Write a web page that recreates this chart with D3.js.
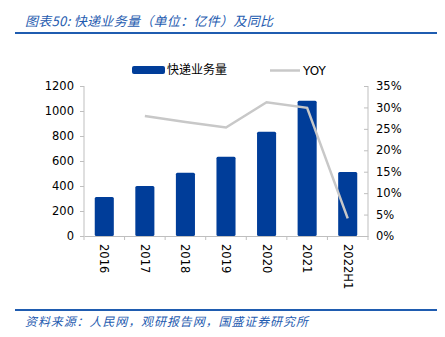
<!DOCTYPE html>
<html><head><meta charset="utf-8">
<script src="https://cdn.jsdelivr.net/npm/d3@7"></script>
<style>body{margin:0;background:#fff;} svg{display:block;}</style>
</head><body>
<svg id="c" width="445" height="337"></svg>
<script>
const categories = ["2016","2017","2018","2019","2020","2021","2022H1"];
const volume = [313, 401, 507, 635, 834, 1083, 512];
const yoy = [null, 28.0, 26.6, 25.3, 31.2, 29.9, 4.1];
const leftTicks = [0,200,400,600,800,1000,1200];
const rightTicks = [0,5,10,15,20,25,30,35];
const titleText = "图表50: 快递业务量（单位：亿件）及同比";
const sourceText = "资料来源：人民网，观研报告网，国盛证券研究所";
const seriesNames = ["快递业务量","YOY"];

const svg = d3.select("#c");
const blue = "#1f5cb0", barColor = "#003d99", lineColor = "#c8c8c8", axisColor = "#bfbfbf";
const font = "DejaVu Sans, Verdana, sans-serif";
const cjk = "Noto Sans CJK SC, sans-serif";

svg.append("text").attr("x",25).attr("y",26).text(titleText)
  .attr("font-family",cjk).attr("font-size",13).attr("font-style","italic").attr("fill",blue)
  .attr("letter-spacing",0.3);
svg.append("line").attr("x1",15).attr("x2",437).attr("y1",33).attr("y2",33).attr("stroke",blue).attr("stroke-width",2);
svg.append("line").attr("x1",15).attr("x2",437).attr("y1",310).attr("y2",310).attr("stroke",blue).attr("stroke-width",2);
svg.append("text").attr("x",25).attr("y",326).text(sourceText)
  .attr("font-family",cjk).attr("font-size",12).attr("font-style","italic").attr("fill",blue)
  .attr("letter-spacing",0.9);

const L = 84, R = 368, T = 86, B = 236;
const x = d3.scaleBand().domain(categories).range([L,R]).paddingInner(0.53).paddingOuter(0.265);
const xb = d3.scaleBand().domain(categories).range([L,R]);
const yl = d3.scaleLinear().domain([0,1200]).range([B,T]);
const yr = d3.scaleLinear().domain([0,35]).range([B,T]);

// bars
svg.append("g").selectAll("rect").data(categories).join("rect")
  .attr("x",d=>x(d)).attr("width",x.bandwidth())
  .attr("y",(d,i)=>yl(volume[i])).attr("height",(d,i)=>B-yl(volume[i]))
  .attr("fill",barColor).attr("rx",1.5);

// left axis
const gl = svg.append("g").attr("transform",`translate(${L},0)`)
  .call(d3.axisLeft(yl).tickValues(leftTicks).tickFormat(d3.format("d")).tickSize(4).tickPadding(6));
// right axis
const gr = svg.append("g").attr("transform",`translate(${R},0)`)
  .call(d3.axisRight(yr).tickValues(rightTicks).tickFormat(d=>d+"%").tickSize(0).tickPadding(8));
gr.selectAll(".tick").append("line").attr("x1",-4).attr("x2",0).attr("stroke",axisColor);
// x axis
const gx = svg.append("g").attr("transform",`translate(0,${B})`)
  .call(d3.axisBottom(xb).tickSize(0).tickPadding(0));
gx.selectAll(".tick text").attr("transform","rotate(90)").attr("x",8).attr("y",0)
  .attr("dy","0.35em").attr("text-anchor","start");
svg.append("g").selectAll("line").data(d3.range(categories.length+1)).join("line")
  .attr("x1",i=>L+i*xb.step()).attr("x2",i=>L+i*xb.step()).attr("y1",B).attr("y2",B+4).attr("stroke",axisColor);

[gl,gr,gx].forEach(g=>{
  g.selectAll(".domain").attr("stroke",axisColor);
  g.selectAll(".tick line").attr("stroke",axisColor);
  g.selectAll("text").attr("font-family",font).attr("font-size",11.5).attr("fill","#000");
});
gl.select(".domain").attr("d",`M0,${T}V${B}`);
gr.select(".domain").attr("d",`M0,${T}V${B}`);

// line
const pts = categories.map((c,i)=>[xb(c)+xb.bandwidth()/2, yoy[i]]).filter(d=>d[1]!==null);
svg.append("path").datum(pts)
  .attr("d",d3.line().x(d=>d[0]).y(d=>yr(d[1])))
  .attr("fill","none").attr("stroke",lineColor).attr("stroke-width",2.5);

// legend
svg.append("rect").attr("x",132).attr("y",66).attr("width",33).attr("height",8).attr("rx",2).attr("fill",barColor);
svg.append("text").attr("x",167).attr("y",74).text(seriesNames[0])
  .attr("font-family",cjk).attr("font-size",12).attr("fill","#000");
svg.append("line").attr("x1",270).attr("x2",300).attr("y1",70.5).attr("y2",70.5).attr("stroke",lineColor).attr("stroke-width",2.5);
svg.append("text").attr("x",303).attr("y",75).text(seriesNames[1])
  .attr("font-family",font).attr("font-size",12).attr("fill","#000");
</script>
</body></html>
